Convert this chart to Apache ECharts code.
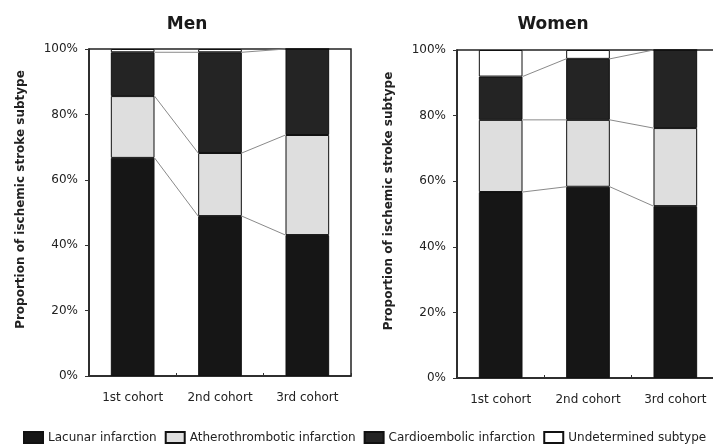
<!DOCTYPE html>
<html>
<head>
<meta charset="utf-8">
<script src="https://cdn.jsdelivr.net/npm/echarts@6/dist/echarts.min.js"></script>
<style>
  html, body { margin: 0; padding: 0; background: #fff; overflow: hidden; }
  /* canvas is a little wider than the window so the right panel's frame runs off the edge */
  #chart { width: 722px; height: 445px; }
</style>
</head>
<body>
<div id="chart"></div>
<script>
// Cohorts on the x axis and the four stroke subtypes (stacked, in %)
const cohorts = ['1st cohort', '2nd cohort', '3rd cohort'];
const subtypes = ['Lacunar infarction', 'Atherothrombotic infarction', 'Cardioembolic infarction', 'Undetermined subtype'];
const yTicks = [0, 20, 40, 60, 80, 100];

const menLacunar = [66.7, 48.9, 43.1];
const menAthero = [18.9, 19.3, 30.6];
const menCardio = [13.4, 30.8, 26.3];
const menUndetermined = [1.0, 1.0, 0.0];

const womenLacunar = [56.7, 58.3, 52.4];
const womenAthero = [22.0, 20.4, 23.8];
const womenCardio = [13.2, 18.6, 23.8];
const womenUndetermined = [8.1, 2.7, 0.0];

const fills = ['#161616', '#dedede', '#242424', '#ffffff'];
const FONT = 'DejaVu Sans';

const panels = [
  { title: 'Men', stack: 'men', parts: [menLacunar, menAthero, menCardio, menUndetermined] },
  { title: 'Women', stack: 'women', parts: [womenLacunar, womenAthero, womenCardio, womenUndetermined] }
];

const grids = [
  { left: 89, top: 49, width: 262, height: 327 },
  { left: 457, top: 50, width: 262, height: 328 }
];

// Running totals: top edge of each segment in each bar
function cumulative(parts) {
  const out = [];
  let acc = cohorts.map(() => 0);
  for (let k = 0; k < parts.length - 1; k++) {
    acc = acc.map((v, i) => v + parts[k][i]);
    out.push(acc.slice());
  }
  return out;
}

// Series lines joining segment boundaries from one bar edge to the next
function seriesLineRender(params, api) {
  const i = api.value(0);
  const a = api.coord([i, api.value(1)]);
  const b = api.coord([i + 1, api.value(2)]);
  const halfBar = api.size([1, 0])[0] * 0.25;
  return {
    type: 'line',
    shape: { x1: a[0] + halfBar, y1: a[1], x2: b[0] - halfBar, y2: b[1] },
    style: { stroke: '#8a8a8a', lineWidth: 1 }
  };
}

const series = [];
panels.forEach((p, pi) => {
  p.parts.forEach((vals, k) => {
    series.push({
      name: subtypes[k],
      type: 'bar',
      stack: p.stack,
      xAxisIndex: pi,
      yAxisIndex: pi,
      barWidth: '50%',
      data: vals,
      z: 3,
      itemStyle: { color: fills[k], borderColor: '#111', borderWidth: 1 },
      emphasis: { disabled: true }
    });
  });
  const cum = cumulative(p.parts);
  const segs = [];
  cum.forEach(row => {
    for (let i = 0; i < cohorts.length - 1; i++) segs.push([i, row[i], row[i + 1]]);
  });
  series.push({
    name: p.title + ' links',
    type: 'custom',
    xAxisIndex: pi,
    yAxisIndex: pi,
    renderItem: seriesLineRender,
    data: segs,
    z: 1,
    silent: true
  });
});

const axisTextColor = '#222';

const option = {
  backgroundColor: '#fff',
  animation: false,
  title: [
    { text: 'Men', left: 182, top: 11, textAlign: 'center',
      textStyle: { fontFamily: FONT, fontWeight: 'bold', fontSize: 17, color: '#1a1a1a' } },
    { text: 'Women', left: 548, top: 11, textAlign: 'center',
      textStyle: { fontFamily: FONT, fontWeight: 'bold', fontSize: 17, color: '#1a1a1a' } }
  ],
  legend: {
    data: subtypes,
    left: 23,
    right: 0,
    top: 431,
    padding: 0,
    icon: 'rect',
    itemWidth: 19,
    itemHeight: 11,
    itemGap: 8,
    selectedMode: false,
    textStyle: { fontFamily: FONT, fontSize: 12, color: '#222' }
  },
  grid: grids.map(g => Object.assign({ show: true, borderColor: '#222', borderWidth: 1.5, backgroundColor: 'transparent' }, g)),
  xAxis: grids.map((g, i) => ({
    type: 'category',
    gridIndex: i,
    data: cohorts,
    axisLine: { lineStyle: { color: '#222', width: 1.5 } },
    axisTick: { show: true, inside: true, length: 3, lineStyle: { color: '#333' } },
    axisLabel: { margin: 16, fontFamily: FONT, fontSize: 12, color: axisTextColor }
  })),
  yAxis: grids.map((g, i) => ({
    type: 'value',
    gridIndex: i,
    min: 0,
    max: 100,
    interval: 20,
    name: 'Proportion of ischemic stroke subtype',
    nameLocation: 'middle',
    nameGap: 62,
    nameTextStyle: { fontFamily: FONT, fontWeight: 'bold', fontSize: 12, color: '#222', padding: [0, 0, 0, 26] },
    splitLine: { show: false },
    axisLine: { show: true, lineStyle: { color: '#222', width: 1.5 } },
    axisTick: { show: true, length: 4, lineStyle: { color: '#333' } },
    axisLabel: { margin: 11, fontFamily: FONT, fontSize: 12, color: axisTextColor,
      formatter: v => (yTicks.indexOf(v) >= 0 ? v + '%' : '') }
  })),
  series: series
};

const chart = echarts.init(document.getElementById('chart'), null, { renderer: 'canvas' });
chart.setOption(option);
</script>
</body>
</html>
